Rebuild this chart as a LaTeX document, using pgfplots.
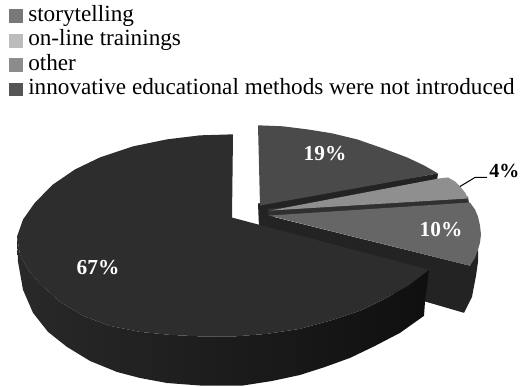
\documentclass[border=0pt]{standalone}
\usepackage{pgfplots}
\usepackage{fontspec}
\setmainfont{Liberation Serif}
\pgfplotsset{compat=1.18}
\definecolor{faceBig}{HTML}{2D2D2D}
\definecolor{faceStory}{HTML}{4A4A4A}
\definecolor{faceOnline}{HTML}{8F8F8F}
\definecolor{faceOther}{HTML}{666666}
\definecolor{wallDark}{HTML}{232323}
\definecolor{wallThin}{HTML}{303030}
\definecolor{keyStory}{HTML}{787878}
\definecolor{keyOnline}{HTML}{BCBCBC}
\definecolor{keyOther}{HTML}{8C8C8C}
\definecolor{keyNone}{HTML}{555555}
\pgfplotsset{
  keysquare/.style={
    legend image code/.code={
      \fill[draw=none, ##1] (0pt,-4.9pt) rectangle (10.5pt,5.5pt);
      \path (14.25pt,0pt);
    }
  }
}
\begin{document}
\begin{tikzpicture}
\path[use as bounding box, clip] (0,0) rectangle (390pt,289.5pt);
\begin{axis}[
  at={(0,0)}, anchor=south west,
  width=390pt, height=289.5pt, scale only axis,
  xmin=0, xmax=520, ymin=0, ymax=386, y dir=reverse,
  hide axis, clip=false, no markers,
  legend cell align=left,
  legend style={
    at={(axis cs:9,8)}, anchor=north west, draw=none, fill=none,
    inner sep=0pt, outer sep=0pt,
    font=\fontsize{17.4pt}{18pt}\selectfont,
    row sep=4.05pt,
    nodes={inner sep=0pt, outer sep=0pt, text height=10.6pt, text depth=3.7pt},
  },
]
% Legend keys
\addlegendimage{keysquare, fill=keyStory}
\addlegendentry{storytelling}
\addlegendimage{keysquare, fill=keyOnline}
\addlegendentry{on-line trainings}
\addlegendimage{keysquare, fill=keyOther}
\addlegendentry{other}
\addlegendimage{keysquare, fill=keyNone}
\addlegendentry{innovative educational methods were not introduced}

% Storytelling slice: inner wall, then top face
\addplot[forget plot, draw=none, fill=wallDark] coordinates {
  (258,204) (438,174) (437,181) (272,212) (268,218) (268,228) (259,228)};
\addplot[forget plot, draw=none, fill=faceStory] coordinates {
  (258,126) (283,127) (307,130) (332,134) (357,140) (383,149) (407,158) (424,166) (438,174) (260,206)};

% On-line trainings slice
\addplot[forget plot, draw=none, fill=wallThin] coordinates {
  (268,209) (468,197) (469,204) (268,218)};
\addplot[forget plot, draw=none, fill=faceOnline] coordinates {
  (270,211) (439,179) (448,178) (455,182) (460,187) (465,193) (468,199)};

% Other slice: walls sit under the top face
\addplot[forget plot, draw=none, fill=wallDark] coordinates {
  (268,216) (470,266) (478,250) (478,262) (476,276) (472,297) (464,313) (426,302) (268,262)};
\addplot[forget plot, draw=none, fill=faceOther] coordinates {
  (269,216) (470,203) (475,210) (478,217) (480,226) (481,235) (480,243) (478,250) (475,258) (470,266)};

% Largest slice: curved wall with a left-to-right gradient, then top face
\addplot[forget plot, draw=none, left color=black!84, middle color=black!91, right color=black!94] coordinates {
  (17,237) (18,262) (23,290) (33,313) (48,332) (67,347) (90,361) (117,372) (140,378)
  (167,383) (200,385.5) (243,385.5) (272,381) (300,375) (325,367) (350,358) (375,346)
  (400,333) (424,316) (425,302) (429,270) (408,286) (383,300) (360,311) (333,320)
  (300,329) (267,334) (235,336.5) (200,336.5) (170,335) (140,332) (110,326) (83,316)
  (60,302) (40,284) (28,270) (20,255)};
\addplot[forget plot, draw=none, fill=faceBig] coordinates {
  (232,218) (233,135) (200,136) (167,140) (133,147) (100,158) (75,170) (53,185) (35,203)
  (23,220) (17,237) (20,255) (28,270) (40,284) (60,302) (83,316) (110,326) (140,332)
  (170,335) (200,336.5) (235,336.5) (267,334) (300,329) (333,320) (360,311) (383,300)
  (408,286) (429,270)};

% Leader line for the 4% label
\addplot[forget plot, black, line width=0.75pt] coordinates {(460,187) (475,178) (487,178)};

% Value labels
\node[white, font=\fontsize{16pt}{16pt}\selectfont\bfseries] at (axis cs:325,154) {19\%};
\node[white, font=\fontsize{16pt}{16pt}\selectfont\bfseries] at (axis cs:441,230) {10\%};
\node[white, font=\fontsize{16pt}{16pt}\selectfont\bfseries] at (axis cs:98,268) {67\%};
\node[black, anchor=west, inner sep=0pt, font=\fontsize{15pt}{15pt}\selectfont\bfseries] at (axis cs:489,172) {4\%};
\end{axis}
\end{tikzpicture}
\end{document}
